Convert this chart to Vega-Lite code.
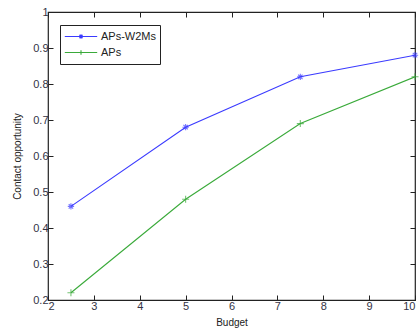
{
  "$schema": "https://vega.github.io/schema/vega-lite/v6.json",
  "width": 367,
  "height": 288,
  "autosize": {"type": "none"},
  "padding": {"left": 48, "top": 12, "right": 4, "bottom": 31},
  "background": "white",
  "config": {
    "view": {"stroke": "#222", "strokeWidth": 1.2},
    "font": "Liberation Sans",
    "axis": {
      "grid": false,
      "domain": false,
      "tickSize": -5,
      "tickColor": "#222",
      "labelFont": "Liberation Sans",
      "labelFontSize": 11,
      "labelColor": "#333344",
      "titleFont": "Liberation Sans",
      "titleFontSize": 10,
      "titleFontWeight": "normal",
      "titleColor": "#222"
    }
  },
  "data": {
    "values": [
      {"budget": 2.5, "value": 0.46, "series": "APs-W2Ms"},
      {"budget": 5, "value": 0.68, "series": "APs-W2Ms"},
      {"budget": 7.5, "value": 0.82, "series": "APs-W2Ms"},
      {"budget": 10, "value": 0.88, "series": "APs-W2Ms"},
      {"budget": 2.5, "value": 0.22, "series": "APs"},
      {"budget": 5, "value": 0.48, "series": "APs"},
      {"budget": 7.5, "value": 0.69, "series": "APs"},
      {"budget": 10, "value": 0.82, "series": "APs"}
    ]
  },
  "layer": [
    {
      "mark": {"type": "line", "strokeWidth": 1.1, "clip": true},
      "encoding": {
        "x": {"field": "budget", "type": "quantitative", "scale": {"domain": [2, 10], "nice": false},
              "axis": {"orient": "bottom", "title": "Budget", "values": [2,3,4,5,6,7,8,9,10], "labelPadding": 5, "titlePadding": 6}},
        "y": {"field": "value", "type": "quantitative", "scale": {"domain": [0.2, 1], "nice": false, "zero": false},
              "axis": {"orient": "left", "title": "Contact opportunity", "values": [0.2,0.3,0.4,0.5,0.6,0.7,0.8,0.9,1], "labelPadding": 5, "titlePadding": 10, "labelExpr": "datum.value == 1 ? '1' : format(datum.value, '.1f')"}},
        "color": {"field": "series", "type": "nominal",
                  "scale": {"domain": ["APs-W2Ms", "APs"], "range": ["#3a3aff", "#3aaa3a"]},
                  "legend": {
                    "title": null,
                    "orient": "none",
                    "legendX": 12,
                    "legendY": 13,
                    "padding": 4,
                    "strokeColor": "#222",
                    "fillColor": "white",
                    "symbolSize": 1050,
                    "symbolStrokeWidth": 1.1,
                    "clipHeight": 15,
                    "labelFont": "Liberation Sans",
                    "labelFontSize": 11,
                    "labelColor": "#222",
                    "rowPadding": 1,
                    "labelOffset": 3,
                    "encode": {
                      "symbols": {
                        "update": {
                          "shape": {"signal": "datum.value === 'APs' ? 'M-1,0L1,0M0,-0.14L0,0.14M-0.14,0L0.14,0' : 'M-1,0L1,0M0,-0.14L0,0.14M-0.1,-0.1L0.1,0.1M-0.1,0.1L0.1,-0.1'"},
                          "fill": {"value": "transparent"}
                        }
                      }
                    }
                  }}
      }
    },
    {
      "transform": [{"filter": "datum.series === 'APs-W2Ms'"}],
      "mark": {"type": "point", "filled": false, "strokeWidth": 1.1, "clip": false, "shape": "M-1,0L1,0M0,-1L0,1M-0.7,-0.7L0.7,0.7M-0.7,0.7L0.7,-0.7", "size": 40},
      "encoding": {
        "x": {"field": "budget", "type": "quantitative", "axis": {"orient": "top", "labels": false, "title": null, "values": [2,3,4,5,6,7,8,9,10]}},
        "y": {"field": "value", "type": "quantitative", "axis": {"orient": "right", "labels": false, "title": null, "values": [0.2,0.3,0.4,0.5,0.6,0.7,0.8,0.9,1]}},
        "color": {"field": "series", "type": "nominal", "legend": null}
      }
    },
    {
      "transform": [{"filter": "datum.series === 'APs'"}],
      "mark": {"type": "point", "filled": false, "strokeWidth": 1.1, "clip": false, "shape": "M-1,0L1,0M0,-1L0,1", "size": 49},
      "encoding": {
        "x": {"field": "budget", "type": "quantitative", "axis": null},
        "y": {"field": "value", "type": "quantitative", "axis": null},
        "color": {"field": "series", "type": "nominal", "legend": null}
      }
    }
  ],
  "resolve": {"axis": {"x": "independent", "y": "independent"}}
}
